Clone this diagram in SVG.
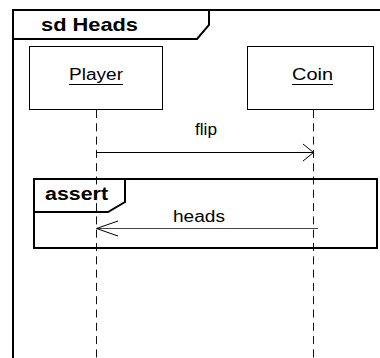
<svg xmlns="http://www.w3.org/2000/svg" width="380" height="358" viewBox="0 0 380 358">
<style>
.frame{fill:none;stroke:#000;stroke-width:2}
.box{fill:#fff;stroke:#000;stroke-width:1}
.life{fill:none;stroke:#111;stroke-width:1;stroke-dasharray:8,5.3}
.msg{fill:none;stroke:#000;stroke-width:1}
.t{font-family:"Liberation Sans",Arial,sans-serif;font-size:16px;fill:#000}
.b{font-family:"Liberation Sans",Arial,sans-serif;font-weight:bold;fill:#000}
</style>
<rect width="380" height="358" fill="#fff"/>
<g id="frame">
<path class="frame" d="M13,358 L13,10 L382,10"/>
<path class="frame" d="M13,39 L197,39 L209,25 L209,10"/>
<text class="b" x="41" y="31" font-size="19" textLength="97" lengthAdjust="spacingAndGlyphs">sd Heads</text>
</g>
<g id="connectors">
<line class="life" x1="96.5" y1="110" x2="96.5" y2="358"/>
<line class="life" x1="313.5" y1="110" x2="313.5" y2="358"/>
<line class="msg" x1="96.5" y1="152.5" x2="313.5" y2="152.5"/>
<polyline class="msg" points="303,144 313.5,152.5 303,161"/>
<text class="t" x="195" y="135" textLength="22" lengthAdjust="spacingAndGlyphs">flip</text>
<line x1="97" y1="228.5" x2="318" y2="228.5" stroke="#444" stroke-width="1"/>
<polyline class="msg" points="118,221 96.5,228.5 118,236"/>
<text class="t" x="173" y="222" textLength="52" lengthAdjust="spacingAndGlyphs">heads</text>
</g>
<g id="player">
<rect class="box" x="29.5" y="46.5" width="133" height="63"/>
<text class="t" x="69" y="80" textLength="54" lengthAdjust="spacingAndGlyphs">Player</text>
<line x1="69" y1="84.5" x2="123" y2="84.5" stroke="#000" stroke-width="1"/>
</g>
<g id="coin">
<rect class="box" x="247.5" y="46.5" width="126" height="63"/>
<text class="t" x="292" y="80" textLength="41" lengthAdjust="spacingAndGlyphs">Coin</text>
<line x1="292" y1="84.5" x2="333" y2="84.5" stroke="#000" stroke-width="1"/>
</g>
<g id="assert">
<rect class="frame" x="34" y="179" width="343" height="69"/>
<path class="frame" d="M34,212 L108,212 L125,202 L125,179"/>
<text class="b" x="45" y="200" font-size="18" textLength="63" lengthAdjust="spacingAndGlyphs">assert</text>
</g>
</svg>
